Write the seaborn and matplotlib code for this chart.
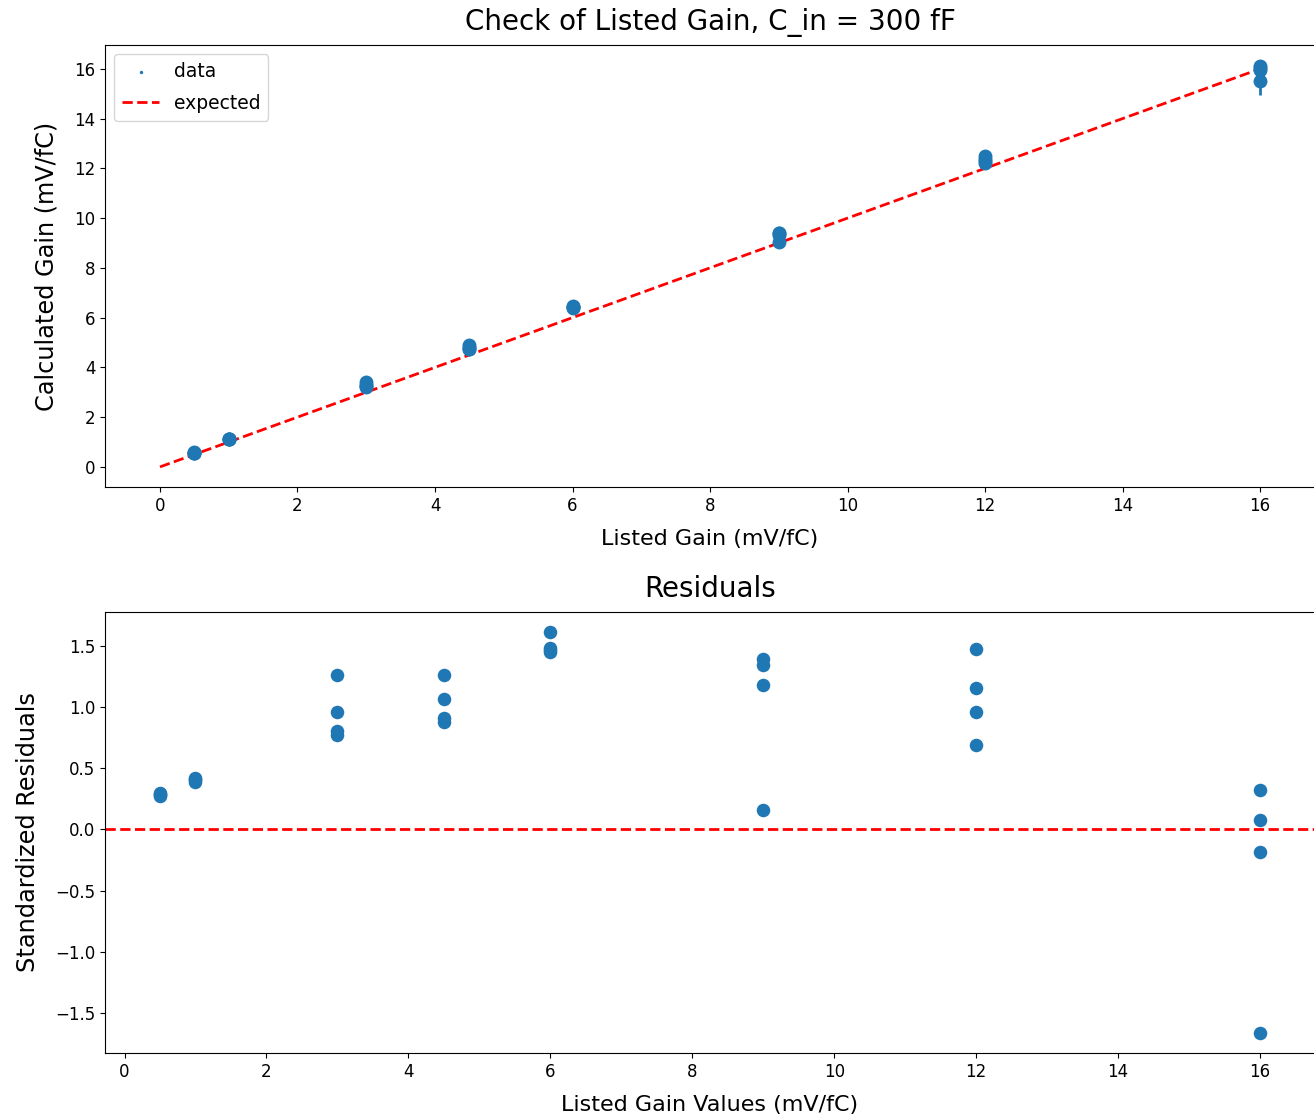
import numpy as np
import pandas as pd
import matplotlib
matplotlib.use("Agg")
import matplotlib.pyplot as plt
import seaborn as sns

# Listed gain settings (mV/fC), four measurements each
listed_gain = [0.5, 0.5, 0.5, 0.5,
               1.0, 1.0, 1.0, 1.0,
               3.0, 3.0, 3.0, 3.0,
               4.5, 4.5, 4.5, 4.5,
               6.0, 6.0, 6.0, 6.0,
               9.0, 9.0, 9.0, 9.0,
               12.0, 12.0, 12.0, 12.0,
               16.0, 16.0, 16.0, 16.0]

# Gain calculated from the fits (mV/fC)
calc_gain = [0.58, 0.57, 0.56, 0.57,
             1.14, 1.12, 1.13, 1.11,
             3.42, 3.30, 3.25, 3.22,
             4.88, 4.80, 4.74, 4.72,
             6.46, 6.42, 6.40, 6.41,
             9.42, 9.40, 9.34, 9.05,
             12.50, 12.38, 12.30, 12.20,
             16.10, 16.02, 15.95, 15.50]

# Uncertainty on the calculated gain (mV/fC)
calc_err = [0.05, 0.05, 0.05, 0.05,
            0.05, 0.05, 0.05, 0.05,
            0.08, 0.08, 0.08, 0.08,
            0.10, 0.10, 0.10, 0.10,
            0.12, 0.12, 0.12, 0.12,
            0.15, 0.15, 0.15, 0.15,
            0.15, 0.15, 0.15, 0.15,
            0.05, 0.08, 0.10, 0.55]

# Standardized residuals of the calculated gain
std_resid = [0.30, 0.28, 0.27, 0.29,
             0.42, 0.40, 0.41, 0.39,
             1.26, 0.96, 0.80, 0.77,
             1.26, 1.06, 0.91, 0.88,
             1.61, 1.48, 1.45, 1.46,
             1.39, 1.34, 1.18, 0.16,
             1.47, 1.15, 0.96, 0.69,
             0.32, 0.08, -0.18, -1.66]

expected_x = [0, 16]
expected_y = [0, 16]

df = pd.DataFrame({"listed": listed_gain, "calc": calc_gain,
                   "err": calc_err, "resid": std_resid})

blue = "#1f77b4"

fig = plt.figure(figsize=(13.14, 11.2), dpi=100)
ax1 = fig.add_axes([0.0799, 0.5652, 0.9209, 0.3946])
ax2 = fig.add_axes([0.0799, 0.0598, 0.9209, 0.3938])

# Top panel: calculated vs listed gain
ax1.errorbar(df["listed"], df["calc"], yerr=df["err"], fmt="o",
             color=blue, markersize=9, elinewidth=2)
sns.scatterplot(data=df, x="listed", y="calc", ax=ax1, s=6,
                color=blue, linewidth=0, label="data")
ax1.plot(expected_x, expected_y, "r--", lw=2, label="expected")
ax1.set_title("Check of Listed Gain, C_in = 300 fF", fontsize=20, pad=11)
ax1.set_xlabel("Listed Gain (mV/fC)", fontsize=16, labelpad=10)
ax1.set_ylabel("Calculated Gain (mV/fC)", fontsize=17.3, labelpad=11)
ax1.tick_params(labelsize=12)
ax1.legend(loc="upper left", fontsize=13.5, labelspacing=0.7)

# Bottom panel: standardized residuals
sns.scatterplot(data=df, x="listed", y="resid", ax=ax2, s=95,
                color=blue, linewidth=0)
ax2.axhline(0, color="red", ls="--", lw=2)
ax2.set_title("Residuals", fontsize=20, pad=11)
ax2.set_xlabel("Listed Gain Values (mV/fC)", fontsize=16, labelpad=10)
ax2.set_ylabel("Standardized Residuals", fontsize=17.3, labelpad=11)
ax2.tick_params(labelsize=12)
ax2.set_xticks([0, 2, 4, 6, 8, 10, 12, 14, 16])

fig.savefig("out.png", dpi=100)
